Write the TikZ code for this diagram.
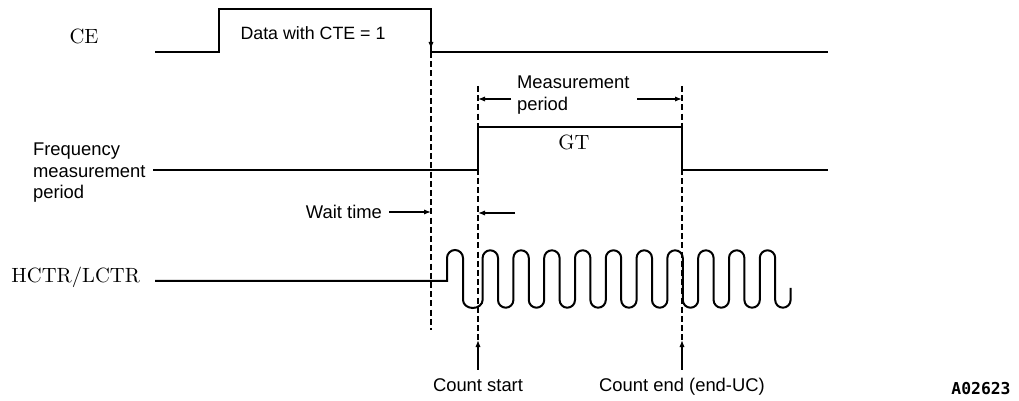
\documentclass[tikz,border=0pt]{standalone}
\usepackage{fontspec}
\setsansfont{Liberation Sans}
\setmonofont{DejaVu Sans Mono}
\usetikzlibrary{arrows.meta}

\begin{document}
\begin{tikzpicture}[x=0.5pt,y=-0.5pt,
    sig/.style={line width=1pt},
    guide/.style={line width=0.6pt,dash pattern=on 3pt off 1.6pt},
    rmlabel/.style={font=\fontsize{10.3}{12}\selectfont},
    sflabel/.style={font=\sffamily\fontsize{9.2}{10.75}\selectfont}]
            \useasboundingbox (0,0) rectangle (1019,401);

            \node[rmlabel] (ce) at (84,36) {CE};
            \node[sflabel,align=left,anchor=west] (fmp) at (26,173) {Frequency\\measurement\\period};
            \node[rmlabel,anchor=east] (hctr) at (147,277) {HCTR/LCTR};

            \coordinate (ceRise) at (219,9);
            \coordinate (ceFall) at (431,52);
            \coordinate (gtRise) at (478,170);
            \coordinate (gtFall) at (682,170);

            % CE and GT
            \draw[sig] (155,52) -- (219,52) -- (ceRise) -- (431,9) -- (ceFall) -- (828,52);
            \node[sflabel,font=\sffamily\fontsize{8.9}{10}\selectfont] (data) at (313,33) {Data with CTE = 1};
            \draw[sig] (153,170) -- (gtRise) -- (478,127) -- (682,127) -- (gtFall) -- (828,170);
            \node[rmlabel] (gt) at (574,142) {GT};

            % HCTR/LCTR
            \draw[sig] (155,281) -- (447,281) -- (447,258)
                arc[start angle=180,end angle=0,radius=4pt] -- (463,300)
                arc[start angle=180,end angle=360,x radius=4.9pt,y radius=4pt] -- ++(0,-42)
                \foreach \k in {1,...,9}{
                  arc[start angle=180,end angle=0,radius=3.85pt] -- ++(0,42)
                  arc[start angle=180,end angle=360,radius=3.85pt] -- ++(0,-42)}
                arc[start angle=180,end angle=0,radius=3.85pt] -- ++(0,42)
                arc[start angle=180,end angle=360,radius=3.85pt] -- ++(0,-12);

            \draw[guide] (ceFall) -- (431,330);
            \draw[guide] (gtRise |- 0,86) -- (gtRise |- 0,340);
            \draw[guide] (gtFall |- 0,86) -- (gtFall |- 0,340);

            \node[sflabel,align=left,anchor=west] (mp) at (510,95) {Measurement\\period};
            \node[sflabel,anchor=east] (wt) at (389,212) {Wait time};
            \node[sflabel,text height=7pt,text depth=2pt] (cs) at (478,386) {Count start};
            \node[sflabel,text height=7pt,text depth=2pt] (cend) at (682,386) {Count end (end-UC)};
            \node[font=\ttfamily\bfseries\fontsize{8.2}{9}\selectfont] (fig) at (981,389) {A02623};

            \coordinate (mpL) at (511,99);
            \coordinate (mpR) at (637,99);
            \coordinate (wtR) at (515,213);
            \coordinate (csTip) at (478,340);
            \coordinate (ceTip) at (682,340);

            \begin{scope}[every path/.append style={line width=0.6pt,-{Latex[length=3.5pt,width=2.6pt]}}]
              \draw (431,30) -- (431,49);
              \draw (mpL) -- (gtRise |- mpL);
              \draw (mpR) -- (gtFall |- mpR);
              \draw (wt.east) -- (ceFall |- wt.east);
              \draw (wtR) -- (gtRise |- wtR);
              \draw (cs.north) -- (csTip);
              \draw (cend.north) -- (ceTip);
            \end{scope}
        \end{tikzpicture}
\end{document}
